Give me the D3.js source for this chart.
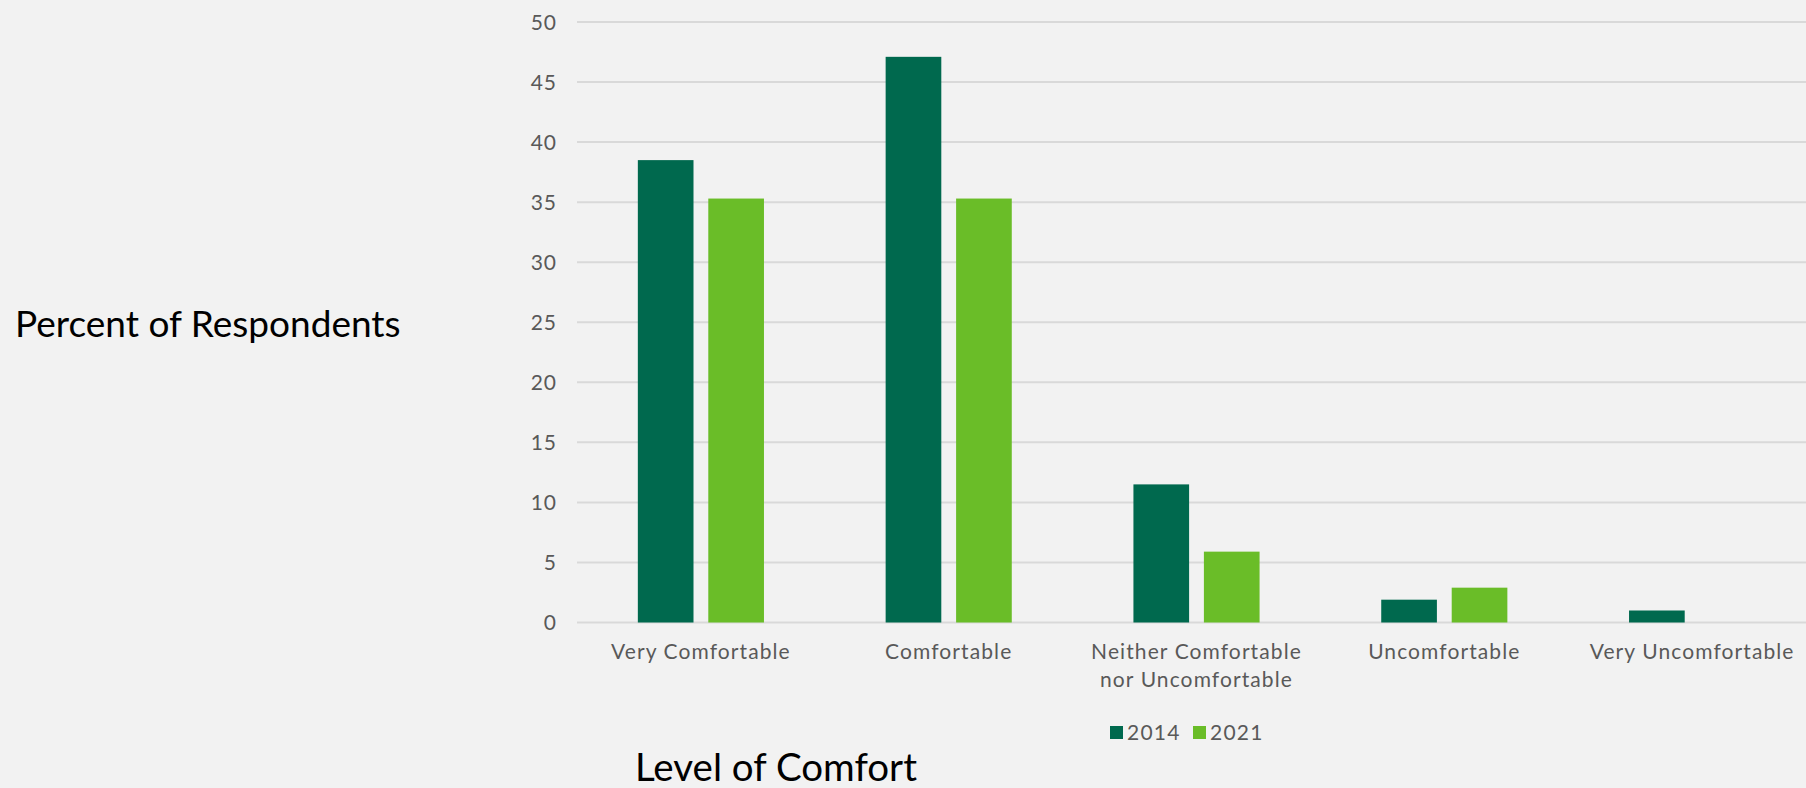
<!DOCTYPE html>
<html>
<head>
<meta charset="utf-8">
<script src="https://cdn.jsdelivr.net/npm/d3@7"></script>
<style>
  html, body { margin: 0; padding: 0; background: #f2f2f2; overflow: hidden; }
  svg { display: block; }
</style>
</head>
<body>
<script>
const categories = ["Very Comfortable", "Comfortable", "Neither Comfortable\nnor Uncomfortable", "Uncomfortable", "Very Uncomfortable"];
const seriesNames = ["2014", "2021"];
const values2014 = [38.5, 47.1, 11.5, 1.9, 1.0];
const values2021 = [35.3, 35.3, 5.9, 2.9, 0];
const yTicks = [0, 5, 10, 15, 20, 25, 30, 35, 40, 45, 50];
const colors = ["#00694e", "#6abd28"];
const yTitle = "Percent of Respondents";
const xTitle = "Level of Comfort";

const W = 1806, H = 788;
const font = "Lato, 'Open Sans', sans-serif";
const svg = d3.select("body").append("svg").attr("width", W).attr("height", H);
svg.append("rect").attr("width", W).attr("height", H).attr("fill", "#f2f2f2");

const x0 = d3.scaleBand().domain(categories).range([577, 1816]).paddingInner(0).paddingOuter(0);
const groupW = x0.bandwidth() * 0.509;
const x1 = d3.scaleBand().domain(seriesNames).range([0, groupW]).paddingInner(0.21).paddingOuter(0);
const y = d3.scaleLinear().domain([0, 50]).range([622.5, 22]);

// y tick labels
const yAxis = d3.axisLeft(y).tickValues(yTicks).tickSize(0).tickPadding(0);
const gAxis = svg.append("g").attr("transform", "translate(557,0)").call(yAxis);
gAxis.select(".domain").remove();
gAxis.selectAll("text").attr("font-family", font).attr("font-size", 21).attr("letter-spacing", "1px")
  .attr("fill", "#595959").attr("dy", "0.35em");

// gridlines
svg.append("g").selectAll("line").data(yTicks).join("line")
  .attr("x1", 577).attr("x2", W)
  .attr("y1", d => y(d)).attr("y2", d => y(d))
  .attr("stroke", "#d9d9d9").attr("stroke-width", 2);

const data = categories.map((c, i) => ({ c, vals: [values2014[i], values2021[i]] }));
const groups = svg.append("g").selectAll("g").data(data).join("g")
  .attr("transform", d => `translate(${x0(d.c) + (x0.bandwidth() - groupW) / 2},0)`);
groups.selectAll("rect").data(d => d.vals.map((v, j) => ({ s: seriesNames[j], v, j }))).join("rect")
  .attr("x", d => x1(d.s))
  .attr("width", x1.bandwidth())
  .attr("y", d => y(d.v))
  .attr("height", d => y(0) - y(d.v))
  .attr("fill", d => colors[d.j]);

// x labels
const xl = svg.append("g").selectAll("text").data(categories).join("text")
  .attr("x", d => x0(d) + x0.bandwidth() / 2)
  .attr("y", 659)
  .attr("text-anchor", "middle")
  .attr("font-family", font).attr("font-size", 21).attr("letter-spacing", "1.1px").attr("fill", "#595959");
xl.selectAll("tspan").data(d => d.split("\n")).join("tspan")
  .attr("x", function () { return d3.select(this.parentNode).attr("x"); })
  .attr("dy", (d, i) => i === 0 ? 0 : 27.5)
  .text(d => d);

// legend
const legend = svg.append("g").attr("transform", "translate(1110,0)");
const legX = [0, 83];
seriesNames.forEach((s, i) => {
  legend.append("rect").attr("x", legX[i]).attr("y", 726).attr("width", 13).attr("height", 13).attr("fill", colors[i]);
  legend.append("text").attr("x", legX[i] + 17).attr("y", 739.5)
    .attr("font-family", font).attr("font-size", 21).attr("letter-spacing", "1.2px").attr("fill", "#595959").text(s);
});

// titles
svg.append("text").attr("x", 15).attr("y", 337).attr("font-family", font).attr("font-size", 37).attr("fill", "#000").text(yTitle);
svg.append("text").attr("x", 635).attr("y", 781).attr("font-family", font).attr("font-size", 38.5).attr("fill", "#000").text(xTitle);
</script>
</body>
</html>
